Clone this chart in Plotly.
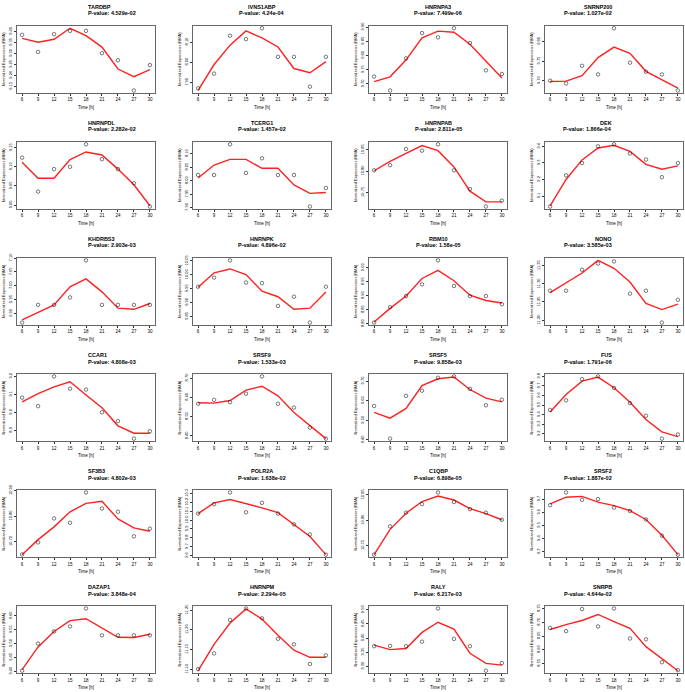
import plotly.graph_objects as go

time_h = [6, 9, 12, 15, 18, 21, 24, 27, 30]

genes = ["TARDBP", "IVNS1ABP", "HNRNPA3", "SNRNP200",
         "HNRNPDL", "TCERG1", "HNRNPAB", "DEK",
         "KHDRBS3", "HNRNPK", "RBM10", "NONO",
         "CCAR1", "SRSF9", "SRSF5", "FUS",
         "SF3B3", "POLR2A", "C1QBP", "SRSF2",
         "DAZAP1", "HNRNPM", "RALY", "SNRPB"]

pvalues = ["4.529e-02", "4.24e-04", "7.499e-06", "1.027e-02",
           "2.282e-02", "1.457e-02", "2.811e-05", "1.866e-04",
           "2.903e-03", "4.896e-02", "1.58e-05", "3.585e-03",
           "4.808e-03", "1.533e-03", "9.858e-03", "1.791e-06",
           "4.802e-03", "1.638e-02", "6.898e-05", "1.887e-02",
           "3.848e-04", "2.294e-05", "6.217e-03", "4.644e-02"]

# observed (points) and fitted (red line) values per gene
TARDBP_obs = [9.385, 9.307, 9.388, 9.403, 9.403, 9.301, 9.269, 9.131, 9.247]
TARDBP_fit = [9.369, 9.351, 9.365, 9.415, 9.381, 9.329, 9.229, 9.194, 9.226]
IVNS1ABP_obs = [7.871, 7.944, 8.132, 8.115, 8.169, 8.027, 8.027, 7.879, 8.027]
IVNS1ABP_fit = [7.860, 7.989, 8.085, 8.156, 8.121, 8.076, 7.969, 7.948, 8.003]
HNRNPA3_obs = [9.726, 9.677, 9.790, 9.879, 9.864, 9.896, 9.844, 9.748, 9.735]
HNRNPA3_fit = [9.708, 9.725, 9.785, 9.862, 9.886, 9.882, 9.840, 9.779, 9.721]
SNRNP200_obs = [9.700, 9.693, 9.738, 9.716, 9.834, 9.746, 9.723, 9.716, 9.675]
SNRNP200_fit = [9.698, 9.699, 9.713, 9.759, 9.786, 9.770, 9.724, 9.702, 9.681]
HNRNPDL_obs = [9.124, 9.035, 9.094, 9.100, 9.159, 9.120, 9.094, 9.057, 8.996]
HNRNPDL_fit = [9.112, 9.070, 9.070, 9.119, 9.139, 9.131, 9.094, 9.053, 8.998]
TCERG1_obs = [8.021, 8.021, 8.135, 8.029, 8.083, 8.021, 8.021, 7.904, 7.973]
TCERG1_fit = [8.010, 8.058, 8.079, 8.079, 8.046, 8.046, 7.984, 7.953, 7.956]
HNRNPAB_obs = [10.802, 10.814, 10.852, 10.848, 10.863, 10.802, 10.758, 10.717, 10.731]
HNRNPAB_fit = [10.801, 10.823, 10.842, 10.860, 10.848, 10.810, 10.753, 10.728, 10.728]
DEK_obs = [9.037, 9.225, 9.299, 9.400, 9.412, 9.357, 9.320, 9.214, 9.299]
DEK_fit = [9.041, 9.200, 9.318, 9.390, 9.406, 9.369, 9.291, 9.262, 9.282]
KHDRBS3_obs = [6.867, 6.931, 6.931, 6.958, 7.092, 6.931, 6.931, 6.931, 6.931]
KHDRBS3_fit = [6.877, 6.904, 6.931, 6.996, 7.025, 6.978, 6.919, 6.915, 6.936]
HNRNPK_obs = [9.957, 9.990, 10.052, 9.972, 9.970, 9.888, 9.921, 9.828, 9.957]
HNRNPK_fit = [9.955, 10.007, 10.021, 10.001, 9.941, 9.921, 9.876, 9.880, 9.938]
RBM10_obs = [8.804, 8.859, 8.899, 8.941, 9.027, 8.935, 8.899, 8.899, 8.870]
RBM10_fit = [8.806, 8.855, 8.899, 8.962, 8.991, 8.954, 8.902, 8.883, 8.874]
NONO_obs = [11.281, 11.281, 11.339, 11.356, 11.362, 11.273, 11.281, 11.193, 11.256]
NONO_fit = [11.276, 11.302, 11.330, 11.365, 11.343, 11.305, 11.246, 11.229, 11.244]
CCAR1_obs = [9.082, 9.035, 9.200, 9.132, 9.127, 9.001, 8.952, 8.855, 8.896]
CCAR1_fit = [9.059, 9.104, 9.142, 9.170, 9.097, 9.026, 8.926, 8.885, 8.885]
SRSF9_obs = [8.567, 8.587, 8.575, 8.619, 8.709, 8.567, 8.547, 8.443, 8.386]
SRSF9_fit = [8.572, 8.570, 8.584, 8.638, 8.658, 8.608, 8.521, 8.452, 8.386]
SRSF5_obs = [9.573, 9.407, 9.625, 9.651, 9.717, 9.724, 9.660, 9.577, 9.605]
SRSF5_fit = [9.541, 9.511, 9.561, 9.677, 9.712, 9.721, 9.657, 9.613, 9.594]
FUS_obs = [9.450, 9.550, 9.771, 9.800, 9.679, 9.521, 9.389, 9.150, 9.193]
FUS_fit = [9.429, 9.611, 9.750, 9.793, 9.682, 9.529, 9.350, 9.221, 9.171]
SF3B3_obs = [10.650, 10.697, 10.791, 10.774, 10.893, 10.830, 10.817, 10.721, 10.751]
SF3B3_fit = [10.649, 10.708, 10.758, 10.817, 10.850, 10.858, 10.789, 10.754, 10.741]
POLR2A_obs = [10.073, 10.179, 10.311, 10.088, 10.194, 10.073, 9.952, 9.838, 9.611]
POLR2A_fit = [10.073, 10.194, 10.232, 10.186, 10.137, 10.084, 9.948, 9.815, 9.611]
C1QBP_obs = [10.732, 10.788, 10.815, 10.832, 10.855, 10.836, 10.822, 10.815, 10.801]
C1QBP_fit = [10.732, 10.782, 10.814, 10.837, 10.848, 10.840, 10.823, 10.813, 10.801]
SRSF2_obs = [9.654, 9.751, 9.695, 9.700, 9.636, 9.610, 9.546, 9.423, 9.279]
SRSF2_fit = [9.664, 9.715, 9.721, 9.677, 9.651, 9.613, 9.546, 9.426, 9.279]
DAZAP1_obs = [9.402, 9.500, 9.544, 9.562, 9.627, 9.530, 9.530, 9.530, 9.530]
DAZAP1_fit = [9.406, 9.488, 9.544, 9.583, 9.590, 9.557, 9.523, 9.522, 9.534]
HNRNPM_obs = [11.100, 11.140, 11.225, 11.254, 11.229, 11.177, 11.163, 11.113, 11.135]
HNRNPM_fit = [11.096, 11.163, 11.217, 11.253, 11.227, 11.186, 11.148, 11.130, 11.130]
RALY_obs = [9.371, 9.372, 9.371, 9.387, 9.505, 9.397, 9.371, 9.284, 9.311]
RALY_fit = [9.375, 9.359, 9.363, 9.420, 9.456, 9.432, 9.346, 9.310, 9.304]
SNRPB_obs = [8.680, 8.668, 8.749, 8.685, 8.751, 8.641, 8.638, 8.554, 8.525]
SNRPB_fit = [8.674, 8.692, 8.707, 8.729, 8.703, 8.678, 8.611, 8.567, 8.523]

y_dticks = [0.05, 0.1, 0.05, 0.05,
            0.05, 0.05, 0.05, 0.1,
            0.05, 0.05, 0.05, 0.05,
            0.1, 0.1, 0.1, 0.1,
            0.1, 0.1, 0.05, 0.1,
            0.05, 0.05, 0.05, 0.05]
y_formats = [".2f", ".2f", ".2f", ".2f",
             ".2f", ".2f", ".2f", ".1f",
             ".2f", ".2f", ".2f", ".2f",
             ".1f", ".2f", ".2f", ".1f",
             ".2f", ".1f", ".2f", ".1f",
             ".2f", ".2f", ".2f", ".2f"]

obs_sets = [TARDBP_obs, IVNS1ABP_obs, HNRNPA3_obs, SNRNP200_obs,
            HNRNPDL_obs, TCERG1_obs, HNRNPAB_obs, DEK_obs,
            KHDRBS3_obs, HNRNPK_obs, RBM10_obs, NONO_obs,
            CCAR1_obs, SRSF9_obs, SRSF5_obs, FUS_obs,
            SF3B3_obs, POLR2A_obs, C1QBP_obs, SRSF2_obs,
            DAZAP1_obs, HNRNPM_obs, RALY_obs, SNRPB_obs]
fit_sets = [TARDBP_fit, IVNS1ABP_fit, HNRNPA3_fit, SNRNP200_fit,
            HNRNPDL_fit, TCERG1_fit, HNRNPAB_fit, DEK_fit,
            KHDRBS3_fit, HNRNPK_fit, RBM10_fit, NONO_fit,
            CCAR1_fit, SRSF9_fit, SRSF5_fit, FUS_fit,
            SF3B3_fit, POLR2A_fit, C1QBP_fit, SRSF2_fit,
            DAZAP1_fit, HNRNPM_fit, RALY_fit, SNRPB_fit]

W, H = 685, 692
FONT = "Liberation Sans, Arial, sans-serif"
fig = go.Figure()
layout = dict(width=W, height=H, margin=dict(l=0, r=0, t=0, b=0),
              paper_bgcolor="white", plot_bgcolor="white",
              showlegend=False, font=dict(family=FONT, color="black"))
annotations = []

for i, gene in enumerate(genes):
    r, c = divmod(i, 4)
    x0 = 17 + 176 * c
    x1 = x0 + 138
    top = 20 + 117.4 * r
    bot = top + 68
    k = "" if i == 0 else str(i + 1)
    xa, ya = "x" + k, "y" + k
    obs, fit = obs_sets[i], fit_sets[i]
    fig.add_trace(go.Scatter(x=time_h, y=fit, mode="lines", xaxis=xa, yaxis=ya,
                             line=dict(color="#ff2020", width=1.4), hoverinfo="skip"))
    fig.add_trace(go.Scatter(x=time_h, y=obs, mode="markers", xaxis=xa, yaxis=ya,
                             marker=dict(symbol="circle-open", size=3.5, color="#222",
                                         line=dict(width=0.6))))
    allv = obs + fit
    lo, hi = min(allv), max(allv)
    pad = 0.04 * (hi - lo)
    layout["xaxis" + k] = dict(domain=[x0 / W, x1 / W], anchor=ya,
                               range=[5.04, 30.96], tickmode="array", tickvals=time_h,
                               ticks="outside", ticklen=2, tickwidth=0.5, tickcolor="#333",
                               showgrid=False, zeroline=False,
                               showline=True, mirror=True, linecolor="#666", linewidth=1,
                               tickfont=dict(size=4.5, family=FONT),
                               title=dict(text="Time [h]", font=dict(size=4.5, family=FONT),
                                          standoff=4))
    layout["yaxis" + k] = dict(domain=[1 - bot / H, 1 - top / H], anchor=xa,
                               range=[lo - pad, hi + pad], dtick=y_dticks[i],
                               tickformat=y_formats[i], tickangle=-90,
                               ticks="outside", ticklen=2, tickwidth=0.5, tickcolor="#333",
                               showgrid=False, zeroline=False,
                               showline=True, mirror=True, linecolor="#666", linewidth=1,
                               tickfont=dict(size=4, family=FONT),
                               title=dict(text="Normalized Expression (RMA)",
                                          font=dict(size=4, family=FONT), standoff=2))
    xc = (x0 + x1) / 2 / W
    annotations.append(dict(x=xc, y=1 - (top - 19) / H, xref="paper", yref="paper",
                            text="<b>" + gene + "</b>", showarrow=False,
                            font=dict(size=5.5, family=FONT), yanchor="middle"))
    annotations.append(dict(x=xc, y=1 - (top - 12.5) / H, xref="paper", yref="paper",
                            text="<b>P-value: " + pvalues[i] + "</b>", showarrow=False,
                            font=dict(size=5.5, family=FONT), yanchor="middle"))

layout["annotations"] = annotations
fig.update_layout(**layout)
fig.write_html("out.html", config={"displayModeBar": False},
               post_script="document.body.style.margin='0';document.body.style.overflow='hidden';")
